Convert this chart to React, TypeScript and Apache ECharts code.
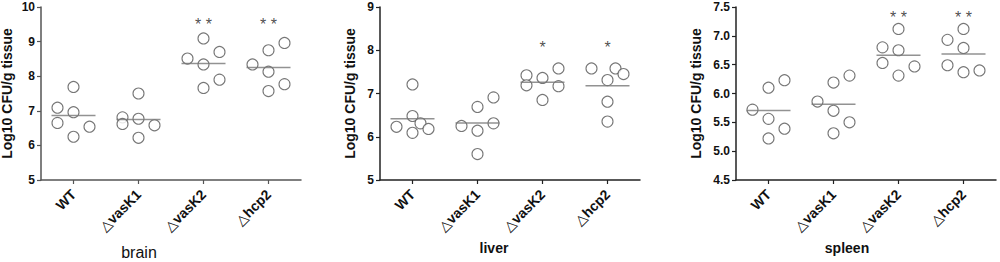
import React, { useEffect, useRef } from "react";
import * as echarts from "echarts";

const categories = ["WT", "△vasK1", "△vasK2", "△hcp2"];

const brainValues = [
  [7.09, 6.65, 7.69, 6.96, 6.25, 6.54],
  [6.81, 6.62, 7.5, 6.77, 6.22, 6.58],
  [8.51, 9.09, 8.34, 7.66, 8.7, 7.9],
  [8.34, 8.75, 8.13, 7.57, 8.96, 7.77],
];
const brainColumns = [
  [-1, -1, 0, 0, 0, 1],
  [-1, -1, 0, 0, 0, 1],
  [-1, 0, 0, 0, 1, 1],
  [-1, 0, 0, 0, 1, 1],
];
const brainStars = ["", "", "* *", "* *"];
const brainStarLevel = 9.6;

const liverValues = [
  [6.23, 7.21, 6.48, 6.09, 6.31, 6.18],
  [6.25, 6.69, 6.14, 5.6, 6.91, 6.31],
  [7.42, 7.19, 7.36, 6.85, 7.58, 7.17],
  [7.58, 7.31, 6.81, 6.35, 7.58, 7.45],
];
const liverColumns = [
  [-1, 0, 0, 0, 0.5, 1],
  [-1, 0, 0, 0, 1, 1],
  [-1, -1, 0, 0, 1, 1],
  [-1, 0, 0, 0, 0.5, 1],
];
const liverStars = ["", "", "*", "*"];
const liverStarLevel = 8.16;

const spleenValues = [
  [5.72, 6.1, 5.56, 5.22, 6.23, 5.39],
  [5.86, 6.19, 5.7, 5.31, 6.31, 5.5],
  [6.8, 6.53, 7.12, 6.75, 6.31, 6.47],
  [6.93, 6.49, 7.12, 6.79, 6.37, 6.4],
];
const spleenColumns = [
  [-1, 0, 0, 0, 1, 1],
  [-1, 0, 0, 0, 1, 1],
  [-1, -1, 0, 0, 0, 1],
  [-1, -1, 0, 0, 0, 1],
];
const spleenStars = ["", "", "* *", "* *"];
const spleenStarLevel = 7.38;

const yAxisTitle = "Log10 CFU/g tissue";

const panels = [
  { tissue: "brain", values: brainValues, columns: brainColumns, stars: brainStars, starLevel: brainStarLevel, min: 5, max: 10, interval: 1, decimals: 0 },
  { tissue: "liver", values: liverValues, columns: liverColumns, stars: liverStars, starLevel: liverStarLevel, min: 5, max: 9, interval: 1, decimals: 0 },
  { tissue: "spleen", values: spleenValues, columns: spleenColumns, stars: spleenStars, starLevel: spleenStarLevel, min: 4.5, max: 7.5, interval: 0.5, decimals: 1 },
];

// layout (pixels)
const layout = [
  { left: 41, yNameGap: 27, xNameShift: 64, xNameGap: 64, xNameSize: 16, xNameWeight: "normal", axisColor: "#555" },
  { left: 380, yNameGap: 23, xNameShift: 32, xNameGap: 58, xNameSize: 14, xNameWeight: "bold", axisColor: "#222" },
  { left: 736, yNameGap: 33, xNameShift: 38, xNameGap: 59, xNameSize: 14, xNameWeight: "bold", axisColor: "#222" },
];

const FONT = "'Liberation Sans', Arial, 'DejaVu Sans', sans-serif";
const JITTER = 16;

function mean(a: number[]) {
  return a.reduce((s, v) => s + v, 0) / a.length;
}

export default function App() {
  const ref = useRef<HTMLDivElement>(null);
  useEffect(() => {
    if (!ref.current) return;
    const chart = echarts.init(ref.current, undefined, { renderer: "svg" });

    const grid: any[] = [];
    const xAxis: any[] = [];
    const yAxis: any[] = [];
    const series: any[] = [];

    panels.forEach((p, i) => {
      const L = layout[i];
      grid.push({
        left: L.left,
        top: 7,
        width: 260,
        height: 173,
        containLabel: false,
        outerBoundsMode: "none",
      });
      xAxis.push({
        type: "category",
        gridIndex: i,
        data: categories,
        boundaryGap: true,
        name: p.tissue,
        nameLocation: "middle",
        nameGap: L.xNameGap,
        nameTextStyle: {
          fontFamily: FONT,
          fontSize: L.xNameSize,
          fontWeight: L.xNameWeight,
          color: "#111",
          padding: [0, L.xNameShift, 0, 0],
        },
        axisLine: { show: true, lineStyle: { color: L.axisColor, width: 1.5 } },
        axisTick: { show: true, alignWithLabel: true, length: 4, lineStyle: { color: L.axisColor, width: 1.2 } },
        axisLabel: {
          rotate: 45,
          margin: 12,
          interval: 0,
          fontFamily: FONT,
          fontSize: 14,
          fontWeight: "bold",
          color: "#111",
        },
        splitLine: { show: false },
      });
      yAxis.push({
        type: "value",
        gridIndex: i,
        min: p.min,
        max: p.max,
        interval: p.interval,
        name: yAxisTitle,
        nameLocation: "middle",
        nameRotate: 90,
        nameGap: L.yNameGap,
        nameTextStyle: { fontFamily: FONT, fontSize: 14, lineHeight: 14, fontWeight: "bold", color: "#111" },
        axisLine: { show: true, lineStyle: { color: L.axisColor, width: 1.5 } },
        axisTick: { show: true, length: 4, lineStyle: { color: L.axisColor, width: 1.2 } },
        axisLabel: {
          margin: 6,
          fontFamily: FONT,
          fontSize: 12,
          fontWeight: "bold",
          color: "#111",
          formatter: (v: number) => v.toFixed(p.decimals),
        },
        splitLine: { show: false },
      });

      const pts: any[] = [];
      p.values.forEach((vals, c) => {
        vals.forEach((v, k) => {
          pts.push({ value: [c, v], symbolOffset: [p.columns[c][k] * JITTER, 0] });
        });
      });
      series.push({
        type: "scatter",
        xAxisIndex: i,
        yAxisIndex: i,
        data: pts,
        symbol: "circle",
        symbolSize: 11,
        itemStyle: { color: "#fff", borderColor: "#555", borderWidth: 1.1 },
        z: 2,
      });
      series.push({
        type: "scatter",
        xAxisIndex: i,
        yAxisIndex: i,
        data: p.values.map((vals, c) => [c, mean(vals)]),
        symbol: "rect",
        symbolSize: [44, 1.5],
        itemStyle: { color: "#777" },
        z: 3,
      });
      series.push({
        type: "scatter",
        xAxisIndex: i,
        yAxisIndex: i,
        data: p.stars
          .map((s, c) => ({ value: [c, p.starLevel], star: s }))
          .filter((d) => d.star !== ""),
        symbolSize: 1,
        itemStyle: { color: "rgba(0,0,0,0)" },
        label: {
          show: true,
          position: "inside",
          offset: [0, 4],
          formatter: (d: any) => d.data.star,
          fontFamily: FONT,
          fontSize: 16,
          color: "#222",
        },
        z: 4,
      });
    });

    chart.setOption({
      animation: false,
      backgroundColor: "#fff",
      grid,
      xAxis,
      yAxis,
      series,
    });
    return () => chart.dispose();
  }, []);
  return (
    <div
      ref={ref}
      style={{ position: "absolute", left: 0, top: 0, width: 1000, height: 262 }}
    />
  );
}
